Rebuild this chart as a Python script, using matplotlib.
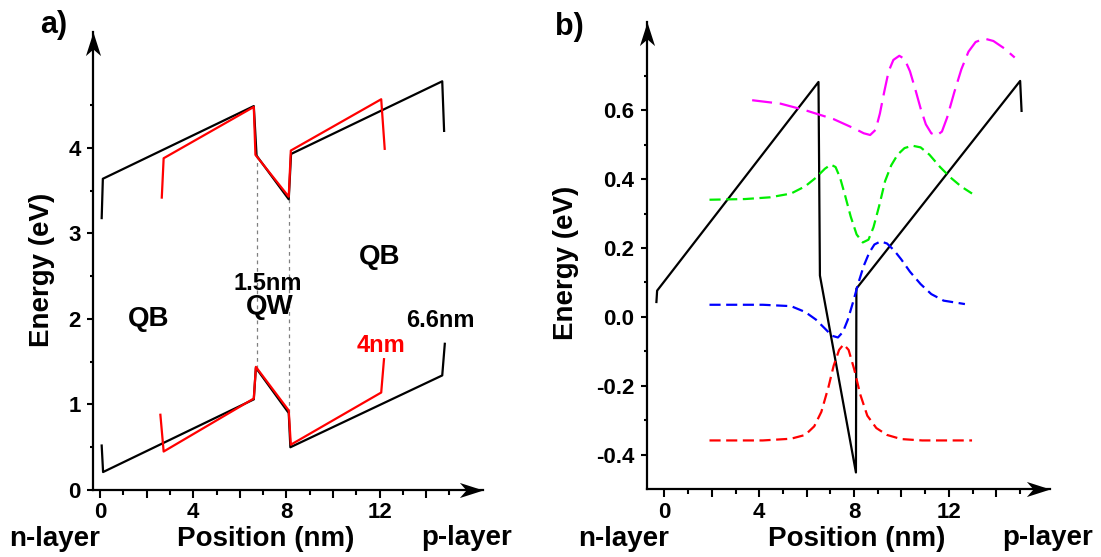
import numpy as np
import matplotlib
matplotlib.use("Agg")
import matplotlib.pyplot as plt
from matplotlib.path import Path
from matplotlib.ticker import FixedLocator, FuncFormatter

plt.rcParams['font.family'] = ['Liberation Sans', 'DejaVu Sans']
plt.rcParams['font.weight'] = 'bold'

# ---- panel a: band edges (nm, eV) ----
cb_66_x = [0.07, 0.12, 6.6, 6.72, 8.1, 8.2, 14.69, 14.77]
cb_66_y = [3.18, 3.64, 4.49, 3.91, 3.40, 3.93, 4.78, 4.20]
cb_4_x = [2.65, 2.73, 6.6, 6.67, 8.1, 8.19, 12.07, 12.22]
cb_4_y = [3.42, 3.88, 4.48, 3.92, 3.43, 3.97, 4.57, 3.99]
vb_66_x = [0.07, 0.13, 6.6, 6.69, 8.1, 8.17, 14.69, 14.8]
vb_66_y = [0.52, 0.21, 1.06, 1.43, 0.90, 0.50, 1.34, 1.71]
vb_4_x = [2.59, 2.73, 6.6, 6.69, 8.1, 8.19, 12.07, 12.19]
vb_4_y = [0.88, 0.45, 1.07, 1.44, 0.93, 0.53, 1.14, 1.53]
qw_left = [6.72, 3.92, 1.43]
qw_right = [8.13, 3.40, 0.90]

# ---- panel b: potential and wavefunctions ----
pot_x = [-0.34, -0.31, 6.5, 6.56, 8.08, 8.1, 15.01, 15.07]
pot_y = [0.043, 0.076, 0.682, 0.12, -0.452, 0.082, 0.685, 0.598]

red_x = [1.9, 4.15, 5.34, 5.94, 6.32, 6.62, 6.92, 7.14, 7.37, 7.56, 7.77, 8.01, 8.26, 8.56,
         8.94, 9.39, 9.99, 10.88, 12.98]
red_y = [-0.359, -0.359, -0.354, -0.343, -0.318, -0.276, -0.204, -0.142, -0.096, -0.080,
         -0.096, -0.153, -0.225, -0.287, -0.323, -0.343, -0.355, -0.359, -0.359]

blue_x = [1.9, 4.15, 5.34, 5.94, 6.39, 6.77, 7.07, 7.32, 7.53, 7.74, 7.96, 8.19, 8.41, 8.64,
          8.86, 9.12, 9.39, 9.69, 9.99, 10.36, 10.81, 11.26, 11.78, 12.68]
blue_y = [0.035, 0.035, 0.031, 0.014, -0.008, -0.034, -0.055, -0.060, -0.044, -0.008, 0.043,
          0.100, 0.148, 0.186, 0.210, 0.219, 0.213, 0.193, 0.167, 0.131, 0.095, 0.066, 0.047,
          0.037]

green_x = [1.9, 3.4, 4.45, 5.34, 5.94, 6.39, 6.77, 7.02, 7.22, 7.41, 7.62, 7.86, 8.11, 8.37,
           8.61, 8.82, 9.06, 9.31, 9.57, 9.84, 10.13, 10.46, 10.81, 11.18, 11.63, 12.08, 12.53,
           12.98]
green_y = [0.340, 0.342, 0.347, 0.358, 0.379, 0.404, 0.430, 0.442, 0.435, 0.404, 0.353, 0.291,
           0.239, 0.216, 0.224, 0.260, 0.322, 0.394, 0.440, 0.471, 0.490, 0.497, 0.492, 0.471,
           0.435, 0.404, 0.378, 0.358]

mag_x = [3.7, 4.9, 5.94, 7.14, 8.04, 8.41, 8.68, 8.91, 9.09, 9.27, 9.46, 9.66, 9.91, 10.13,
         10.36, 10.58, 10.81, 11.03, 11.26, 11.48, 11.71, 11.93, 12.23, 12.53, 12.83, 13.13,
         13.5, 13.88, 14.33, 14.78]
mag_y = [0.629, 0.619, 0.600, 0.574, 0.546, 0.533, 0.528, 0.543, 0.590, 0.652, 0.713, 0.746,
         0.758, 0.749, 0.713, 0.662, 0.605, 0.559, 0.533, 0.526, 0.538, 0.579, 0.652, 0.719,
         0.770, 0.798, 0.808, 0.801, 0.780, 0.753]

W, H = 1101, 557
fig = plt.figure(figsize=(W / 100, H / 100), dpi=100)


def box(l, r, b, t):
    return [l / W, 1 - b / H, (r - l) / W, (b - t) / H]


up_arrow = Path([(0, 0), (0.32, -1), (0, -0.72), (-0.32, -1), (0, 0)],
                [Path.MOVETO, Path.LINETO, Path.LINETO, Path.LINETO, Path.CLOSEPOLY])
right_arrow = Path([(0, 0), (-1, 0.32), (-0.72, 0), (-1, -0.32), (0, 0)],
                   [Path.MOVETO, Path.LINETO, Path.LINETO, Path.LINETO, Path.CLOSEPOLY])


def style_axes(ax, yticks, yminor, yfmt):
    for s in ['top', 'right']:
        ax.spines[s].set_visible(False)
    for s in ['left', 'bottom']:
        ax.spines[s].set_linewidth(1.6)
    ax.xaxis.set_major_locator(FixedLocator(np.arange(0, 15, 2)))
    ax.xaxis.set_minor_locator(FixedLocator(np.arange(1, 16, 2)))
    ax.xaxis.set_major_formatter(FuncFormatter(lambda v, p: f"{v:.0f}" if v % 4 == 0 else ""))
    ax.yaxis.set_major_locator(FixedLocator(yticks))
    ax.yaxis.set_minor_locator(FixedLocator(yminor))
    ax.yaxis.set_major_formatter(FuncFormatter(yfmt))
    ax.tick_params(axis='x', which='major', length=6, width=1.5, pad=3, labelsize=16)
    ax.tick_params(axis='x', which='minor', length=3.5, width=1.5)
    ax.tick_params(axis='y', which='major', length=4, width=1.5, pad=5, labelsize=16)
    ax.tick_params(axis='y', which='minor', length=2.5, width=1.5)
    for lab in ax.get_xticklabels() + ax.get_yticklabels():
        lab.set_fontweight('bold')
    ax.plot([0], [1], marker=up_arrow, ms=34, color='k', mew=0,
            transform=ax.transAxes, clip_on=False)
    ax.plot([1], [0], marker=right_arrow, ms=34, color='k', mew=0,
            transform=ax.transAxes, clip_on=False)


# ---------------- panel a ----------------
ax1 = fig.add_axes(box(93.3, 483, 490, 31.7))
ax1.set_xlim(-0.29, 16.44)
ax1.set_ylim(0, 5.36)
style_axes(ax1, [0, 1, 2, 3, 4], [0.5, 1.5, 2.5, 3.5, 4.5], lambda v, p: f"{v:.0f}")

ax1.plot([qw_left[0]] * 2, qw_left[1:], color='#808080', lw=0.9, ls=(0, (3, 3)))
ax1.plot([qw_right[0]] * 2, qw_right[1:], color='#808080', lw=0.9, ls=(0, (3, 3)))
ax1.plot(cb_66_x, cb_66_y, color='black', lw=1.6)
ax1.plot(vb_66_x, vb_66_y, color='black', lw=1.6)
ax1.plot(cb_4_x, cb_4_y, color='#ff0000', lw=1.6)
ax1.plot(vb_4_x, vb_4_y, color='#ff0000', lw=1.6)

ax1.text(2.1, 2.0, "QB", fontsize=20, ha='center', va='center')
ax1.text(12.0, 2.73, "QB", fontsize=20, ha='center', va='center')
ax1.text(7.2, 2.41, "1.5nm", fontsize=17, ha='center', va='center')
ax1.text(7.27, 2.14, "QW", fontsize=20, ha='center', va='center')
ax1.text(14.6, 1.98, "6.6nm", fontsize=17, ha='center', va='center')
ax1.text(12.07, 1.69, "4nm", fontsize=17, ha='center', va='center', color='#ff0000')

# ---------------- panel b ----------------
ax2 = fig.add_axes(box(646.7, 1050, 489, 21.7))
ax2.set_xlim(-0.75, 16.27)
ax2.set_ylim(-0.5, 0.857)
style_axes(ax2, [-0.4, -0.2, 0.0, 0.2, 0.4, 0.6], [-0.3, -0.1, 0.1, 0.3, 0.5, 0.7],
           lambda v, p: f"{v:.1f}".replace("\u2212", "-"))

ax2.plot(pot_x, pot_y, color='black', lw=1.6)
ax2.plot(red_x, red_y, color='#ff0000', lw=1.6, dashes=(5, 2.5))
ax2.plot(blue_x, blue_y, color='#0000ff', lw=1.6, dashes=(5, 2.5))
ax2.plot(green_x, green_y, color='#00ee00', lw=1.6, dashes=(5, 2.5))
ax2.plot(mag_x, mag_y, color='#ff00ff', lw=1.6, dashes=(9, 3.5))


def ftext(x, y, s, **kw):
    fig.text(x / W, 1 - y / H, s, ha='center', va='center', fontweight='bold', **kw)


ftext(54, 25, "a)", fontsize=22)
ftext(569, 27, "b)", fontsize=22)
for xn, xp, xc in [(55, 467, 266), (624, 1048, 857)]:
    ftext(xn, 539, "n-layer", fontsize=20)
    ftext(xc, 539, "Position (nm)", fontsize=20)
    ftext(xp, 538, "p-layer", fontsize=20)
ftext(42, 270, "Energy (eV)", fontsize=20, rotation=90)
ftext(566, 263, "Energy (eV)", fontsize=20, rotation=90)

fig.savefig("out.png", dpi=100)
